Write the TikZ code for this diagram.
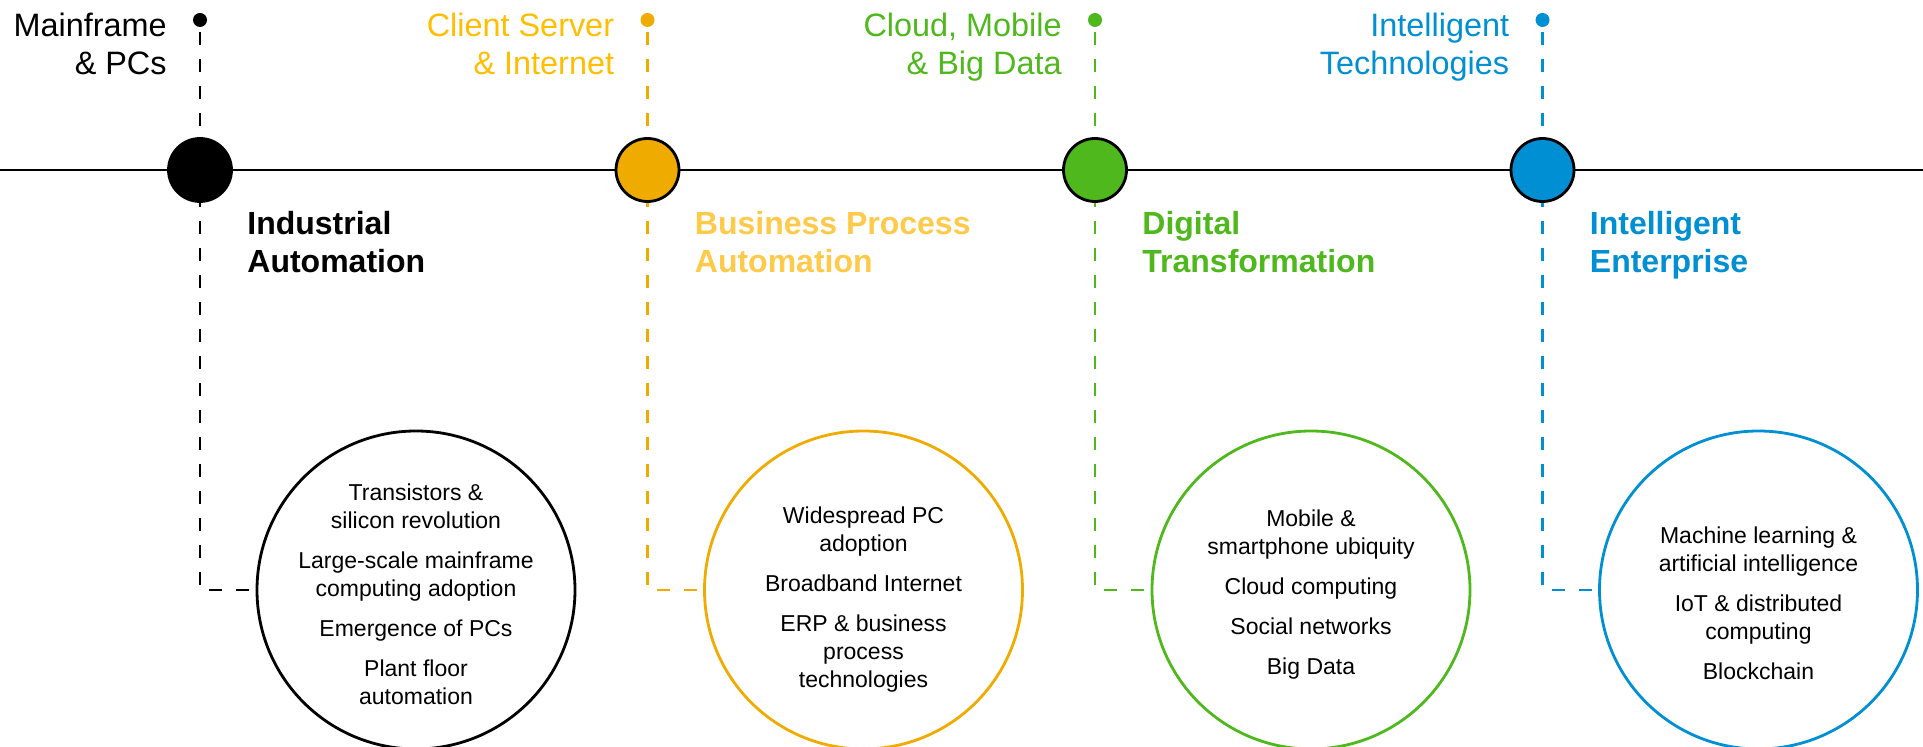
\documentclass[tikz,border=0pt]{standalone}
\usepackage{fontspec}
\setmainfont{Liberation Sans}
\usetikzlibrary{backgrounds}
\definecolor{sapgold}{HTML}{F0AB00}
\definecolor{goldlabel}{HTML}{FFBE00}
\definecolor{goldhead}{HTML}{FFC94A}
\definecolor{sapgreen}{HTML}{4FB81C}
\definecolor{sapblue}{HTML}{008FD3}
\begin{document}
\begin{tikzpicture}[x=0.5pt,y=-0.5pt,
  era/.style={circle, draw=black, line width=1.4pt, minimum size=31.5pt, inner sep=0pt},
  topdot/.style={circle, inner sep=0pt, minimum size=7pt},
  bigcirc/.style={circle, line width=1.4pt, minimum size=159pt, inner sep=0pt, fill=white},
  toplabel/.style={anchor=north east, align=right, inner sep=0pt, font=\fontsize{16.2pt}{18.75pt}\selectfont},
  heading/.style={anchor=north west, align=left, inner sep=0pt, font=\fontsize{16pt}{19pt}\selectfont\bfseries},
  body/.style={align=center, inner sep=0pt, font=\fontsize{11.5pt}{14pt}\selectfont},
  timeline/.style={line width=1.35pt, black},
  guide/.style={line width=1.35pt, dash pattern=on 6.5pt off 7pt, shorten <=2.5pt},
]
\useasboundingbox (0,0) rectangle (1923,747);

\coordinate (tlL) at (0,170);
\coordinate (tlR) at (1923,170);

% era markers on the timeline
\node[era, fill=black]    (e1) at (200,170)    {};
\node[era, fill=sapgold]  (e2) at (647.5,170)  {};
\node[era, fill=sapgreen] (e3) at (1095,170)   {};
\node[era, fill=sapblue]  (e4) at (1542.5,170) {};

% top dots
\node[topdot, fill=black]    (d1) at (200,20)    {};
\node[topdot, fill=sapgold]  (d2) at (647.5,20)  {};
\node[topdot, fill=sapgreen] (d3) at (1095,20)   {};
\node[topdot, fill=sapblue]  (d4) at (1542.5,20) {};

% top labels
\node[toplabel, text=black]      (l1) at (167,13)    {Mainframe\\\& PCs};
\node[toplabel, text=goldlabel]  (l2) at (614.5,13)  {Client Server\\\& Internet};
\node[toplabel, text=sapgreen]   (l3) at (1062,13)   {Cloud, Mobile\\\& Big Data};
\node[toplabel, text=sapblue]    (l4) at (1509.5,13) {Intelligent\\Technologies};

% headings
\node[heading, text=black]    (h1) at (247,211)    {Industrial\\Automation};
\node[heading, text=goldhead] (h2) at (694.5,211)  {Business Process\\Automation};
\node[heading, text=sapgreen] (h3) at (1142,211)   {Digital\\Transformation};
\node[heading, text=sapblue]  (h4) at (1589.5,211) {Intelligent\\Enterprise};

% big circles
\node[bigcirc, draw=black]    (b1) at (416,590)  {};
\node[bigcirc, draw=sapgold]  (b2) at (863.5,590) {};
\node[bigcirc, draw=sapgreen] (b3) at (1311,590) {};
\node[bigcirc, draw=sapblue]  (b4) at (1758.5,590) {};

\node[body] (t1) at ([yshift=-2pt]b1.center) {Transistors \&\\silicon revolution\\[6pt]Large-scale mainframe\\computing adoption\\[6pt]Emergence of PCs\\[6pt]Plant floor\\automation};
\node[body] (t2) at ([yshift=-5pt]b2.center) {Widespread PC\\adoption\\[6pt]Broadband Internet\\[6pt]ERP \& business\\process\\technologies};
\node[body] (t3) at ([yshift=-2.5pt]b3.center) {Mobile \&\\smartphone ubiquity\\[6pt]Cloud computing\\[6pt]Social networks\\[6pt]Big Data};
\node[body] (t4) at ([yshift=-6.5pt]b4.center) {Machine learning \&\\artificial intelligence\\[6pt]IoT \& distributed\\computing\\[6pt]Blockchain};

\begin{scope}[on background layer]
  \draw[timeline] (tlL) -- (tlR);
  \draw[guide, draw=black]    (d1.south) |- (b1.west);
  \draw[guide, draw=sapgold]  (d2.south) |- (b2.west);
  \draw[guide, draw=sapgreen] (d3.south) |- (b3.west);
  \draw[guide, draw=sapblue]  (d4.south) |- (b4.west);
\end{scope}
\end{tikzpicture}
\end{document}
